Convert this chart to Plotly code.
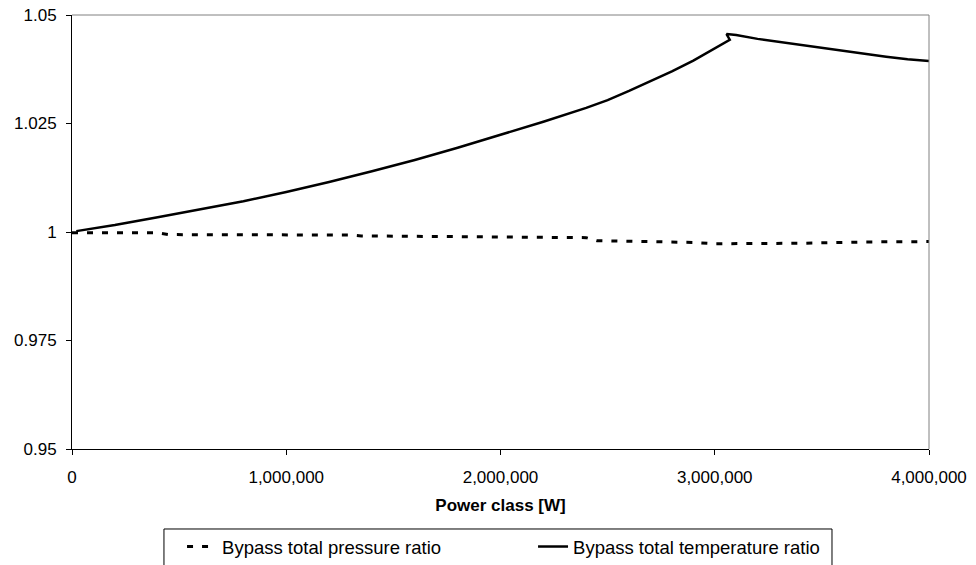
import plotly.graph_objects as go

# Power class [W] and the two bypass ratios
power_pressure = [0, 400000, 450000, 1300000, 1350000, 2000000, 2400000, 2450000,
                  2900000, 3000000, 3400000, 3700000, 4000000]
pressure_ratio = [0.9998, 0.9998, 0.9994, 0.9993, 0.9991, 0.9989, 0.9987, 0.9980,
                  0.9976, 0.9973, 0.9974, 0.9977, 0.9978]

power_temp = [20000, 200000, 400000, 600000, 800000, 1000000, 1200000, 1400000,
              1600000, 1800000, 2000000, 2200000, 2400000, 2500000, 2600000,
              2700000, 2800000, 2900000, 3000000, 3070000, 3055000, 3100000,
              3200000, 3300000, 3400000, 3500000, 3600000, 3700000, 3800000,
              3900000, 4000000]
temperature_ratio = [1.0002, 1.0016, 1.0034, 1.0052, 1.0071, 1.0092, 1.0115, 1.0140,
                     1.0166, 1.0194, 1.0224, 1.0254, 1.0286, 1.0304, 1.0325,
                     1.0347, 1.0370, 1.0395, 1.0423, 1.0443, 1.0456, 1.0454,
                     1.0445, 1.0438, 1.0432, 1.0425, 1.0418, 1.0411, 1.0404,
                     1.0398, 1.0394]

y_ticks = [0.95, 0.975, 1.0, 1.025, 1.05]
y_tick_text = ["0.95", "0.975", "1", "1.025", "1.05"]
x_ticks = [0, 1000000, 2000000, 3000000, 4000000]
x_tick_text = ["0", "1,000,000", "2,000,000", "3,000,000", "4,000,000"]

FONT = "Liberation Sans, Arial, sans-serif"
FS = 17
LEGEND_FS = 18.5

fig = go.Figure()
fig.add_trace(go.Scatter(
    x=power_pressure, y=pressure_ratio, mode="lines",
    name="Bypass total pressure ratio",
    line=dict(color="black", width=3, dash="6px,9px"),
))
fig.add_trace(go.Scatter(
    x=power_temp, y=temperature_ratio, mode="lines",
    name="Bypass total temperature ratio",
    line=dict(color="black", width=2.5),
))

fig.update_layout(
    width=976, height=565,
    margin=dict(l=72, r=47, t=15, b=116, autoexpand=False),
    paper_bgcolor="white", plot_bgcolor="white",
    font=dict(family=FONT, size=FS, color="black"),
    showlegend=True,
    legend=dict(
        orientation="h", x=0.1284, y=-0.1820, xanchor="left", yanchor="top",
        entrywidth=306, bgcolor="rgba(0,0,0,0)", borderwidth=0,
        font=dict(family=FONT, size=LEGEND_FS, color="black"),
    ),
)

fig.update_xaxes(
    range=[0, 4000000], tickvals=x_ticks, ticktext=x_tick_text,
    showgrid=False, zeroline=False, showline=True, linecolor="black", linewidth=1,
    ticks="outside", ticklen=5, tickcolor="black", ticklabelstandoff=8,
    title=dict(text="<b>Power class [W]</b>", standoff=12,
               font=dict(family=FONT, size=FS)),
)
fig.update_yaxes(
    range=[0.95, 1.05], tickvals=y_ticks, ticktext=y_tick_text,
    showgrid=False, zeroline=False, showline=True, linecolor="black", linewidth=1,
    ticks="outside", ticklen=5, tickcolor="black", ticklabelstandoff=6,
)

# gray frame on the top and right of the plot area
fig.add_shape(type="line", xref="paper", yref="paper", x0=0, x1=1, y0=1, y1=1,
              line=dict(color="#808080", width=1))
fig.add_shape(type="line", xref="paper", yref="paper", x0=1, x1=1, y0=0, y1=1,
              line=dict(color="#808080", width=1))
# legend frame
fig.add_shape(type="rect", xref="paper", yref="paper",
              x0=0.1073, x1=0.8868, y0=-0.1843, y1=-0.29,
              line=dict(color="black", width=1), fillcolor="rgba(0,0,0,0)")

fig.write_html("out.html")
